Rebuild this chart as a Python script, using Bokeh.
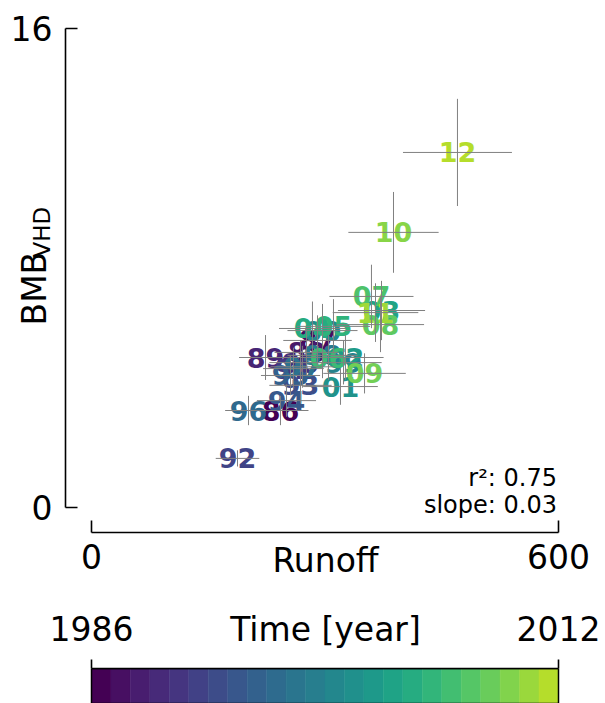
import numpy as np
from bokeh.plotting import figure
from bokeh.layouts import column
from bokeh.models import FixedTicker, Label, LinearColorMapper, ColumnDataSource, Title
from bokeh.palettes import Viridis256
from bokeh.core.properties import value
from bokeh.embed import file_html
from bokeh.resources import INLINE

# ---- data ----
years = [1986, 1987, 1988, 1989, 1990, 1991, 1992, 1993, 1994, 1995, 1996, 1997, 1998,
         1999, 2000, 2001, 2002, 2003, 2004, 2005, 2006, 2007, 2008, 2009, 2010, 2011, 2012]
runoff = [242.8, 290.4, 276.2, 223.6, 268.5, 259.5, 187.6, 268.5, 250.5, 255.7, 201.7, 271.0, 296.8,
          323.8, 296.8, 319.9, 326.3, 372.6, 283.9, 310.9, 304.5, 359.7, 371.3, 350.8, 388.0, 364.9, 470.2]
bmb = [3.24, 5.58, 5.18, 5.01, 4.84, 4.64, 1.64, 4.08, 3.57, 4.41, 3.24, 4.70, 5.08,
       4.84, 5.91, 4.04, 5.01, 6.58, 5.98, 6.05, 5.01, 7.05, 6.11, 4.48, 9.19, 6.51, 11.86]
runoff_err = [36, 44, 41, 34, 40, 39, 28, 40, 38, 38, 30, 41, 45,
              49, 45, 48, 49, 56, 43, 47, 46, 54, 56, 53, 58, 55, 70]
bmb_err = [0.49, 0.84, 0.78, 0.75, 0.73, 0.70, 0.27, 0.61, 0.54, 0.66, 0.49, 0.70, 0.76,
           0.73, 0.89, 0.61, 0.75, 0.99, 0.90, 0.91, 0.75, 1.06, 0.92, 0.67, 1.35, 0.98, 1.79]
x_ticks = [0, 600]
y_ticks = [0, 16]
cbar_ticks = [1986, 2012]
r2_text = "r\u00b2: 0.75"
slope_text = "slope: 0.03"

FONT = "DejaVu Sans"
TICK_SIZE = "33px"

# colour maps: continuous viridis (up to ~0.89) for labels, 24 steps for the bar
label_palette = list(Viridis256[:228])
label_mapper = LinearColorMapper(palette=label_palette, low=1986, high=2012)
n_bins = 24
bar_palette = [Viridis256[int(round(i))] for i in np.linspace(0, 227, n_bins)]

labels = [str(y)[2:] for y in years]
x = np.array(runoff)
y = np.array(bmb)
xe = np.array(runoff_err)
ye = np.array(bmb_err)
src = ColumnDataSource(dict(x=x, y=y, year=years, label=labels,
                            xl=x - xe, xr=x + xe, yb=y - ye, yt=y + ye))

W = 605
p = figure(width=W, height=590, output_backend="svg", toolbar_location=None,
           x_range=(-33.4, 634.7), y_range=(-0.835, 16),
           min_border_left=65, min_border_right=20, min_border_top=28, min_border_bottom=58)
p.outline_line_color = None
p.xgrid.visible = False
p.ygrid.visible = False

p.text(x="x", y="y", text="label", source=src, text_align="center", text_baseline="middle",
       text_font=value(FONT), text_font_style="bold", text_font_size="27px",
       text_color={"field": "year", "transform": label_mapper})
p.segment(x0="xl", y0="y", x1="xr", y1="y", source=src, line_color="#808080", line_width=1)
p.segment(x0="x", y0="yb", x1="x", y1="yt", source=src, line_color="#808080", line_width=1)

for ax, ticks in ((p.xaxis[0], x_ticks), (p.yaxis[0], y_ticks)):
    ax.ticker = FixedTicker(ticks=ticks)
    ax.bounds = (ticks[0], ticks[-1])
    ax.minor_tick_line_color = None
    ax.major_tick_in = 12
    ax.major_tick_out = 0
    ax.axis_line_width = 1.6
    ax.major_tick_line_width = 1.6
    ax.major_label_text_font = FONT
    ax.major_label_text_font_size = TICK_SIZE
    ax.major_label_text_color = "black"
    ax.axis_line_color = "black"
    ax.major_tick_line_color = "black"

p.xaxis.major_label_standoff = 11
p.xaxis.axis_label = "Runoff"
p.xaxis.axis_label_text_font = FONT
p.xaxis.axis_label_text_font_size = TICK_SIZE
p.xaxis.axis_label_text_font_style = "normal"
p.xaxis.axis_label_text_color = "black"
p.xaxis.axis_label_standoff = -31
p.yaxis.major_label_standoff = 13

# y label "BMB" with subscript "VHD" as side titles (zero-width panels)
t_main = Title(text="BMB", align="left", vertical_align="bottom", offset=207, standoff=-92,
               text_font=FONT, text_font_size="33px", text_font_style="normal", text_color="black")
t_sub = Title(text="VHD", align="left", vertical_align="bottom", offset=275, standoff=-94,
              text_font=FONT, text_font_size="23px", text_font_style="normal", text_color="black")
p.add_layout(t_main, "left")
p.add_layout(t_sub, "left")

# stats
p.add_layout(Label(x=598, y=1.0, text=r2_text, text_font=FONT, text_font_size="24px",
                   text_align="right", text_baseline="alphabetic", text_color="black"))
p.add_layout(Label(x=598, y=0.07, text=slope_text, text_font=FONT, text_font_size="24px",
                   text_align="right", text_baseline="alphabetic", text_color="black"))

# ---- colour bar figure ----
edges = np.linspace(cbar_ticks[0], cbar_ticks[-1], n_bins + 1)
csrc = ColumnDataSource(dict(left=edges[:-1], right=edges[1:], color=bar_palette))
c = figure(width=W, height=113, output_backend="svg", toolbar_location=None,
           x_range=(1984.5525, 2013.503), y_range=(0, 1), x_axis_location="above",
           y_axis_location=None,
           min_border_left=65, min_border_right=20, min_border_top=78, min_border_bottom=0)
c.quad(left="left", right="right", bottom=0, top=1, source=csrc, fill_color="color",
       line_color="color", line_width=0.5)
c.quad(left=cbar_ticks[0], right=cbar_ticks[-1], bottom=0, top=1, fill_color=None,
       line_color="black", line_width=1.5)
c.xgrid.visible = False
c.ygrid.visible = False
c.outline_line_color = None
cax = c.xaxis[0]
cax.ticker = FixedTicker(ticks=cbar_ticks)
cax.bounds = (cbar_ticks[0], cbar_ticks[-1])
cax.minor_tick_line_color = None
cax.major_tick_in = 0
cax.major_tick_out = 9
cax.major_tick_line_width = 1.6
cax.axis_line_width = 1.6
cax.major_label_text_font = FONT
cax.major_label_text_font_size = TICK_SIZE
cax.major_label_text_color = "black"
cax.major_label_standoff = 19
cax.axis_label = "Time [year]"
cax.axis_label_text_font = FONT
cax.axis_label_text_font_size = TICK_SIZE
cax.axis_label_text_font_style = "normal"
cax.axis_label_text_color = "black"
cax.axis_label_standoff = -36

layout = column(p, c, spacing=0)
open("out.html", "w").write(file_html(layout, INLINE))
